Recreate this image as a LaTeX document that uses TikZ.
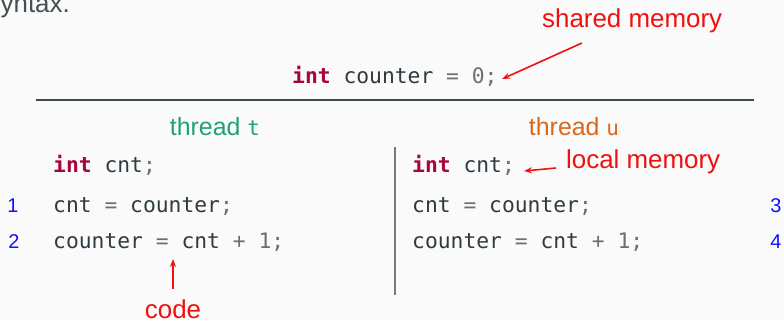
\documentclass[tikz,border=0pt]{standalone}
\usepackage{fontspec}
\setmainfont{Liberation Sans}
\newfontfamily\codefont{DejaVu Sans Mono}
\usetikzlibrary{arrows.meta}
\definecolor{bgcol}{HTML}{FAFAFA}
\definecolor{codecol}{HTML}{2F3B40}
\definecolor{opcol}{HTML}{6E6E6E}
\definecolor{kwcol}{HTML}{A5063C}
\definecolor{tcol}{HTML}{22A07A}
\definecolor{ucol}{HTML}{D9681B}
\definecolor{numcol}{HTML}{1010FF}
\definecolor{notecol}{HTML}{F01010}
\definecolor{rulecol}{HTML}{3A494E}
\definecolor{vcol}{HTML}{7A7A7A}
\newcommand\kwd[1]{\textcolor{kwcol}{\bfseries #1}}
\newcommand\opr[1]{\textcolor{opcol}{#1}}
\begin{document}
\begin{tikzpicture}[x=1bp,y=-1bp,
  code/.style={anchor=base west,inner sep=0pt,text=codecol,font=\codefont\fontsize{21.4}{25}\selectfont},
  note/.style={inner sep=0pt,text=notecol,font=\fontsize{26}{30}\selectfont},
  lnum/.style={anchor=base,inner sep=0pt,text=numcol,font=\fontsize{20}{24}\selectfont},
  thr/.style={anchor=base,inner sep=0pt,font=\fontsize{25}{30}\selectfont},
  arr/.style={draw=notecol,line width=1.6pt,-{Stealth[length=8pt,width=6pt]}}]
\clip (0,0) rectangle (784,320);
\fill[bgcol] (0,0) rectangle (784,320);
\useasboundingbox (0,0) rectangle (784,320);
% cut-off text at top
\node[anchor=base east,inner sep=0pt,text=codecol!90,font=\fontsize{26}{30}\selectfont] (syn) at (70,12) {syntax.};
% shared variable
\node[code] (shared) at (292,83) {\kwd{int} counter \opr{=} \opr{0;}};
\node[note,anchor=base west] (sm) at (542,27) {shared memory};
\coordinate (smfrom) at (582,43);
\coordinate (smto) at (502,79);
\draw[arr] (smfrom) -- (smto);
% rule
\coordinate (r1) at (36,100);
\coordinate (r2) at (754,100);
\draw[rulecol,line width=1.3pt] (r1) -- (r2);
% thread headers
\node[thr,text=tcol] (tt) at (215,135) {thread {\codefont\fontsize{21}{24}\selectfont t}};
\node[thr,text=ucol] (tu) at (574,135) {thread {\codefont\fontsize{21}{24}\selectfont u}};
% separator
\coordinate (v1) at (395,147);
\coordinate (v2) at (395,295);
\draw[vcol,line width=1.5pt] (v1) -- (v2);
% left code
\node[code] (l1) at (53,172) {\kwd{int} cnt\opr{;}};
\node[code] (l2) at (53,212) {cnt \opr{=} counter\opr{;}};
\node[code] (l3) at (53,248) {counter \opr{=} cnt \opr{+} \opr{1;}};
\node[lnum] (n1) at (13,212) {1};
\node[lnum] (n2) at (14,248) {2};
% right code
\node[code] (r1c) at (412,172) {\kwd{int} cnt\opr{;}};
\node[code] (r2c) at (412,212) {cnt \opr{=} counter\opr{;}};
\node[code] (r3c) at (412,248) {counter \opr{=} cnt \opr{+} \opr{1;}};
\node[lnum] (n3) at (776,212) {3};
\node[lnum] (n4) at (776,248) {4};
% local memory
\node[note,anchor=base west] (lm) at (566,168) {local memory};
\coordinate (lmfrom) at (556,168);
\coordinate (lmto) at (524,171);
\draw[arr] (lmfrom) -- (lmto);
% code
\node[note,anchor=base] (cd) at (173,318) {code};
\coordinate (cdfrom) at (173,289);
\coordinate (cdto) at (173,259);
\draw[arr] (cdfrom) -- (cdto);
\end{tikzpicture}
\end{document}
